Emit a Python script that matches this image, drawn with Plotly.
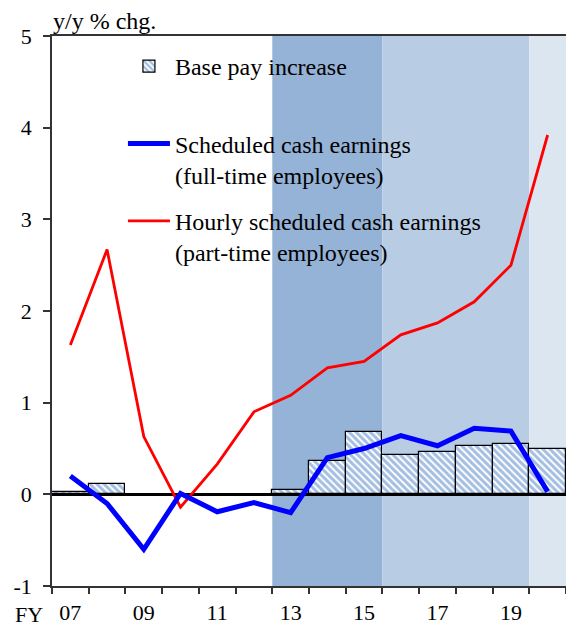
import plotly.graph_objects as go

# ---- data ----
fiscal_years = ["07", "08", "09", "10", "11", "12", "13", "14", "15", "16", "17", "18", "19", "20"]
tick_labels = ["07", "", "09", "", "11", "", "13", "", "15", "", "17", "", "19", ""]
base_pay = [0.03, 0.11, None, None, None, None, 0.05, 0.36, 0.68, 0.43, 0.46, 0.53, 0.55, 0.50]
scheduled_full = [0.20, -0.10, -0.60, 0.01, -0.19, -0.09, -0.20, 0.40, 0.50, 0.64, 0.53, 0.72, 0.69, 0.03]
hourly_part = [1.63, 2.67, 0.63, -0.14, 0.33, 0.90, 1.08, 1.38, 1.45, 1.74, 1.87, 2.10, 2.50, 3.92]
shade_periods = [("13", "15"), ("16", "19"), ("20", "20")]
y_tick_vals = [-1, 0, 1, 2, 3, 4, 5]
y_tick_text = ["-1", "0", "1", "2", "3", "4", "5"]

# ---- style ----
FONT = "Liberation Serif"
shade_colors = ["#95B3D7", "#B8CCE4", "#DCE6F1"]

fig = go.Figure()

fig.add_trace(go.Bar(
    x=fiscal_years, y=base_pay, width=1.0,
    name="Base pay increase<br>&nbsp;",
    marker=dict(color="white", line=dict(color="black", width=1.2),
                pattern=dict(shape="\\", fgcolor="#4A7DC4", bgcolor="white",
                             size=5, solidity=0.6)),
    legendgroup="a", legendrank=1,
))
fig.add_trace(go.Scatter(
    x=fiscal_years, y=hourly_part, mode="lines",
    name="Hourly scheduled cash earnings<br>(part-time employees)",
    line=dict(color="#FF0000", width=2.8),
    legendgroup="c", legendrank=3,
))
fig.add_trace(go.Scatter(
    x=fiscal_years, y=scheduled_full, mode="lines",
    name="Scheduled cash earnings<br>(full-time employees)",
    line=dict(color="#0000FF", width=5),
    legendgroup="b", legendrank=2,
))

for (start, end), col in zip(shade_periods, shade_colors):
    i0 = fiscal_years.index(start)
    i1 = fiscal_years.index(end)
    fig.add_shape(type="rect", xref="x", yref="paper",
                  x0=i0 - 0.5, x1=i1 + 0.5, y0=0, y1=1,
                  fillcolor=col, line=dict(width=0), layer="below")

fig.update_layout(
    width=566, height=626,
    margin=dict(l=52, r=0, t=36, b=40, autoexpand=False),
    plot_bgcolor="white", paper_bgcolor="white",
    font=dict(family=FONT, size=22, color="black"),
    bargap=0,
    showlegend=True,
    legend=dict(
        x=0.138, y=0.9855, xanchor="left", yanchor="top",
        bgcolor="rgba(0,0,0,0)", borderwidth=0,
        font=dict(family=FONT, size=24, color="black"),
        traceorder="grouped", tracegroupgap=12,
        valign="top", itemwidth=42,
    ),
    xaxis=dict(
        type="category", categoryorder="array", categoryarray=fiscal_years,
        range=[-0.5, len(fiscal_years) - 0.5],
        tickmode="array", tickvals=fiscal_years, ticktext=tick_labels,
        tickson="boundaries", ticks="outside", ticklen=6, tickwidth=1.5,
        tickcolor="#333333",
        showline=True, linecolor="#333333", linewidth=1.5, mirror=True,
        showgrid=False, zeroline=False, automargin=False,
        ticklabelstandoff=6,
        tickfont=dict(family=FONT, size=22),
    ),
    yaxis=dict(
        range=[-1, 5], tickmode="array", tickvals=y_tick_vals, ticktext=y_tick_text,
        ticks="outside", ticklen=7, tickwidth=1.5, tickcolor="#333333",
        showline=True, linecolor="#333333", linewidth=1.5,
        showgrid=False, automargin=False,
        zeroline=True, zerolinecolor="black", zerolinewidth=2.5,
        ticklabelstandoff=7,
        tickfont=dict(family=FONT, size=22),
    ),
    annotations=[
        dict(text="y/y % chg.", xref="paper", yref="paper", x=0, y=1,
             xanchor="left", yanchor="bottom", showarrow=False,
             font=dict(family=FONT, size=24), xshift=-1, yshift=0),
        dict(text="FY", xref="paper", yref="paper", x=-0.044, y=0,
             xanchor="center", yanchor="middle", showarrow=False, height=20,
             font=dict(family=FONT, size=22), yshift=-28),
    ],
)

fig.write_html(
    "out.html",
    config={"displayModeBar": False},
    post_script="document.body.style.margin='0';document.body.style.overflow='hidden';",
)
